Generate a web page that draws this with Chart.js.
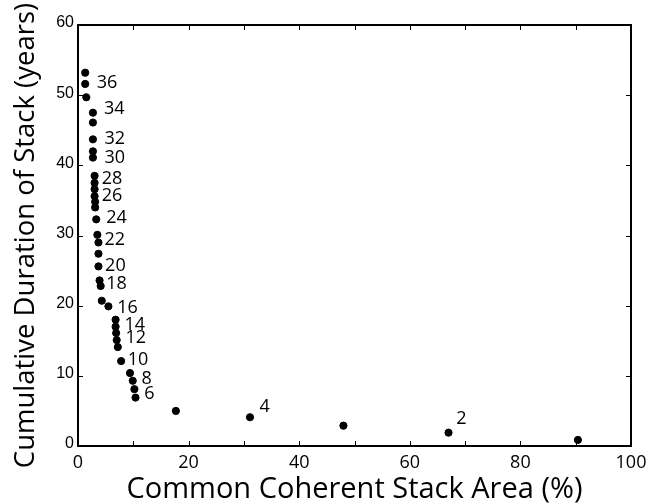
<!DOCTYPE html>
<html>
<head>
<meta charset="utf-8">
<title>Stack duration vs coherent area</title>
<script src="https://cdn.jsdelivr.net/npm/chart.js@4.4.1/dist/chart.umd.min.js"></script>
<style>
  html, body { margin: 0; padding: 0; background: #fff; }
  #wrap { width: 655px; height: 504px; }
</style>
</head>
<body>
<div id="wrap"><canvas id="stackChart"></canvas></div>
<script>
// =====================
// DATA
// =====================
// common coherent stack area (%) for each stack size
const areaPct = [1.3, 1.3, 1.5, 2.7, 2.7, 2.7, 2.7, 2.7, 3.0, 3.0, 3.0, 3.0, 3.1, 3.1, 3.3, 3.5,
  3.7, 3.7, 3.7, 3.9, 4.1, 4.3, 5.5, 6.8, 6.8, 6.9, 7.0, 7.2, 7.8, 9.4, 9.9, 10.2, 10.4,
  17.7, 31.1, 48.0, 67.0, 90.4];
// cumulative duration of stack (years)
const durationYrs = [53.2, 51.6, 49.7, 47.5, 46.1, 43.7, 42.0, 41.1, 38.5, 37.5, 36.6, 35.6, 34.8, 34.0, 32.3, 30.1,
  29.0, 27.4, 25.6, 23.6, 22.8, 20.7, 19.9, 18.0, 17.0, 16.1, 15.1, 14.1, 12.1, 10.4, 9.3, 8.1, 6.9,
  5.0, 4.1, 2.9, 1.9, 0.86];

// stack count annotations (placed in data units)
const labelText = ["36", "34", "32", "30", "28", "26", "24", "22", "20", "18", "16", "14", "12", "10", "8", "6", "4", "2"];
const labelX = [3.4, 4.7, 4.8, 4.8, 4.3, 4.3, 5.1, 4.8, 4.9, 5.1, 7.1, 8.4, 8.6, 9.0, 11.5, 12.0, 32.8, 68.4];
const labelY = [51.8, 48.1, 43.8, 41.0, 38.0, 35.6, 32.5, 29.4, 25.7, 23.1, 19.7, 17.3, 15.4, 12.3, 9.5, 7.4, 5.6, 3.9];

const xTicks = [0, 10, 20, 30, 40, 50, 60, 70, 80, 90, 100];
const yTicks = [0, 10, 20, 30, 40, 50, 60];

const points = areaPct.map((x, i) => ({ x: x, y: durationYrs[i] }));

// =====================
// PLUGINS
// =====================
// box around the plot with inward ticks on all four sides
const boxTicks = {
  id: "boxTicks",
  afterDatasetsDraw(chart) {
    const { ctx, chartArea: a, scales: { x, y } } = chart;
    const len = 5;
    ctx.save();
    ctx.strokeStyle = "#000";
    ctx.lineWidth = 1;
    ctx.beginPath();
    xTicks.forEach(v => {
      const px = Math.round(x.getPixelForValue(v)) + 0.5;
      ctx.moveTo(px, a.bottom); ctx.lineTo(px, a.bottom - len);
      ctx.moveTo(px, a.top); ctx.lineTo(px, a.top + len);
    });
    yTicks.forEach(v => {
      const py = Math.round(y.getPixelForValue(v)) + 0.5;
      ctx.moveTo(a.left, py); ctx.lineTo(a.left + len, py);
      ctx.moveTo(a.right, py); ctx.lineTo(a.right - len, py);
    });
    ctx.stroke();
    ctx.lineWidth = 2;
    ctx.strokeRect(a.left, a.top, a.right - a.left, a.bottom - a.top);
    ctx.restore();
  }
};

// stack count text next to the points
const stackLabels = {
  id: "stackLabels",
  afterDatasetsDraw(chart) {
    const { ctx, scales: { x, y } } = chart;
    ctx.save();
    ctx.fillStyle = "#000";
    ctx.font = "18px 'Open Sans'";
    ctx.textAlign = "left";
    ctx.textBaseline = "middle";
    labelText.forEach((t, i) => {
      ctx.fillText(t, x.getPixelForValue(labelX[i]), y.getPixelForValue(labelY[i]));
    });
    ctx.restore();
  }
};

// =====================
// CHART
// =====================
new Chart(document.getElementById("stackChart"), {
  type: "scatter",
  data: {
    datasets: [{
      data: points,
      backgroundColor: "#000",
      borderColor: "#000",
      pointRadius: 3.6,
      pointHoverRadius: 3.6
    }]
  },
  options: {
    responsive: true,
    maintainAspectRatio: false,
    animation: false,
    layout: { padding: { top: 25, right: 24, left: 0, bottom: 0 } },
    plugins: {
      legend: { display: false },
      tooltip: { enabled: false }
    },
    scales: {
      x: {
        type: "linear",
        min: 0,
        max: 100,
        afterFit(scale) { scale.height = 58; },
        grid: { display: false, drawTicks: false },
        border: { display: false },
        ticks: {
          stepSize: 20,
          padding: 6,
          color: "#000",
          font: { family: "'Open Sans'", size: 18 }
        },
        title: {
          display: true,
          text: "Common Coherent Stack Area (%)",
          color: "#000",
          font: { family: "'Open Sans'", size: 29, lineHeight: 1 },
          padding: { top: 0, bottom: 0 }
        }
      },
      y: {
        type: "linear",
        min: 0,
        max: 60,
        afterFit(scale) { scale.width = 78; },
        grid: { display: false, drawTicks: false },
        border: { display: false },
        ticks: {
          stepSize: 10,
          padding: 4,
          labelOffset: -2,
          color: "#000",
          font: { family: "'Liberation Sans'", size: 16 }
        },
        title: {
          display: true,
          text: "Cumulative Duration of Stack (years)",
          color: "#000",
          font: { family: "'Open Sans'", size: 27.5, lineHeight: 1 },
          padding: { top: 12, bottom: 0 }
        }
      }
    }
  },
  plugins: [boxTicks, stackLabels]
});
</script>
</body>
</html>
